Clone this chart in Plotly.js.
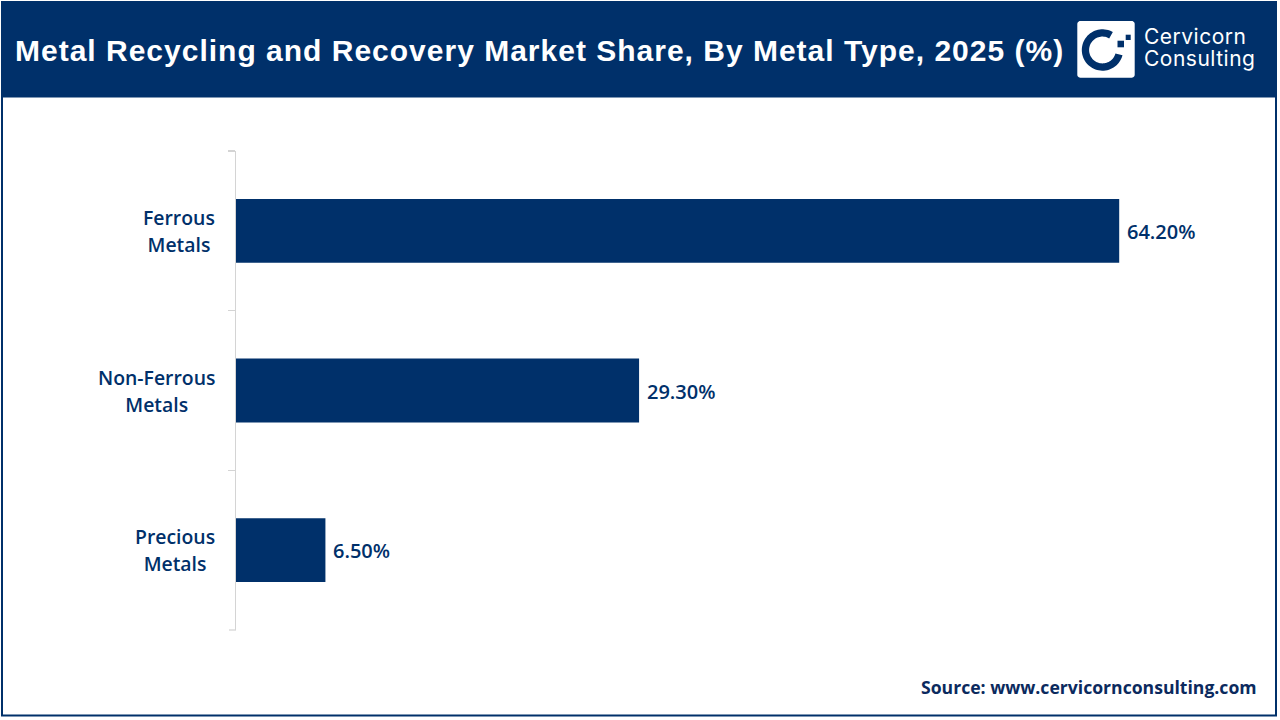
<!DOCTYPE html>
<html><head><meta charset="utf-8">
<script src="https://cdn.plot.ly/plotly-3.0.1.min.js"></script>
<style>html,body{margin:0;padding:0;background:#fff}#c{width:1280px;height:720px}
text[data-unformatted^="<b>Metal"]{letter-spacing:1px}
text[data-unformatted*="Cervicorn<"]{letter-spacing:.5px}
</style>
</head><body><div id="c"></div>
<script>
const categories = ["Ferrous Metals", "Non-Ferrous Metals", "Precious Metals"];
const categoryLines = ["Ferrous<br>Metals", "Non-Ferrous<br>Metals", "Precious<br>Metals"];
const shares = [64.2, 29.3, 6.5];
const titleText = "Metal Recycling and Recovery Market Share, By Metal Type, 2025 (%)";
const sourceText = "Source: www.cervicornconsulting.com";
const logoLines = ["Cervicorn", "Consulting"];

const NAVY = "#00306A";
const W = 1280, H = 720;
const plot = {l: 236, r: 1199, t: 151, b: 630};
const px = x => (x - plot.l) / (plot.r - plot.l);
const py = y => (plot.b - y) / (plot.b - plot.t);
const rectPath = pts => "M" + pts.map(p => px(p[0]).toFixed(5) + "," + py(p[1]).toFixed(5)).join("L") + "Z";
function paperShape(d, fill) {
  return {type: "path", xref: "paper", yref: "paper", path: d, fillcolor: fill, line: {width: 0}, layer: "above"};
}
function ringPath(cx, cy, ro, ri, a0, a1) {
  const pts = [];
  for (let i = 0; i <= 60; i++) { const a = (a0 + (a1 - a0) * i / 60) * Math.PI / 180; pts.push([cx + ro * Math.cos(a), cy - ro * Math.sin(a)]); }
  for (let i = 60; i >= 0; i--) { const a = (a0 + (a1 - a0) * i / 60) * Math.PI / 180; pts.push([cx + ri * Math.cos(a), cy - ri * Math.sin(a)]); }
  return rectPath(pts);
}
function box(x0, y0, x1, y1) { return rectPath([[x0,y0],[x1,y0],[x1,y1],[x0,y1]]); }
function roundBox(x0, y0, x1, y1, r) {
  const p = [];
  [[x1-r,y0+r,90,0],[x1-r,y1-r,0,-90],[x0+r,y1-r,-90,-180],[x0+r,y0+r,180,90]].forEach(c => {
    for (let i = 0; i <= 6; i++) { const a = (c[2] + (c[3]-c[2]) * i / 6) * Math.PI / 180; p.push([c[0] + r*Math.cos(a), c[1] - r*Math.sin(a)]); }
  });
  return rectPath(p);
}

const AXIS_GRAY = "#D4D4D4";
const shapes = [
  {type: "path", xref: "paper", yref: "paper", path: box(1, 1, 1277, 97.5), fillcolor: NAVY, line: {width: 0}, layer: "below"},
  {type: "path", xref: "paper", yref: "paper", path: box(2, 2, 1276, 715.5), fillcolor: "rgba(0,0,0,0)", line: {color: NAVY, width: 2}, layer: "above"},
  {type: "line", xref: "paper", yref: "paper", x0: px(229), x1: px(236), y0: 0, y1: 0, line: {color: AXIS_GRAY, width: 1.25}},
  paperShape(roundBox(1077.3, 21, 1134.7, 77.7, 3), "#FFFFFF"),
  paperShape(ringPath(1102.5, 50, 20.7, 13.4, 60, 345), NAVY),
  paperShape(box(1117.5, 40.7, 1124, 47.3), NAVY),
  paperShape(box(1125.7, 34.7, 1130.7, 40), NAVY)
];

const annotations = categories.map((c, i) => ({
  xref: "x", yref: "y", x: 0, y: c, showarrow: false,
  text: categoryLines[i].split("<br>").map(l => '<span style="font-size:19.4px">' + l + '</span>').join("<br>"),
  xanchor: "right", xshift: -19.5, yshift: 0, align: "center",
  font: {family: "Open Sans, sans-serif", size: 21, color: NAVY, weight: 600}
}));
shares.forEach((v, i) => annotations.push({
  xref: "x", yref: "y", x: v, y: categories[i], showarrow: false, text: v.toFixed(2) + "%",
  xanchor: "left", xshift: 6, yshift: -0.5,
  font: {family: "Open Sans, sans-serif", size: 20, color: NAVY, weight: 600}
}));
annotations.push(
  {xref: "paper", yref: "paper", x: px(13), y: py(51), xanchor: "left", yanchor: "middle", showarrow: false, text: "<b>" + titleText + "</b>",
   font: {family: "Liberation Sans, Arial, sans-serif", size: 30, color: "#FFFFFF"}},
  {xref: "paper", yref: "paper", x: px(1259), y: py(686.5), xanchor: "right", yanchor: "middle", showarrow: false, text: "<b>" + sourceText + "</b>",
   font: {family: "Open Sans, sans-serif", size: 17.6, color: "#0B2A5E"}},
  {xref: "paper", yref: "paper", x: px(1142), y: py(48), xanchor: "left", yanchor: "middle", showarrow: false, align: "left",
   text: logoLines.map(l => '<span style="font-size:21px">' + l + '</span>').join("<br>"),
   font: {family: "Inter, sans-serif", size: 17, color: "#FFFFFF"}}
);

Plotly.newPlot("c", [{
  type: "bar", orientation: "h", y: categories, x: shares,
  marker: {color: NAVY, line: {width: 0}},
  hoverinfo: "skip"
}], {
  width: W, height: H, showlegend: false, paper_bgcolor: "#FFFFFF", plot_bgcolor: "#FFFFFF",
  margin: {l: plot.l, r: W - plot.r, t: plot.t, b: H - plot.b, pad: 0},
  bargap: 0.6,
  xaxis: {range: [0, 70], visible: false, fixedrange: true},
  yaxis: {type: "category", autorange: "reversed", tickson: "boundaries", ticks: "outside", ticklen: 7, tickwidth: 1.25,
          tickcolor: AXIS_GRAY, showline: true, linecolor: AXIS_GRAY, linewidth: 1.25, showgrid: false, zeroline: false,
          showticklabels: false, fixedrange: true},
  shapes, annotations
}, {displayModeBar: false, staticPlot: true});
</script></body></html>
